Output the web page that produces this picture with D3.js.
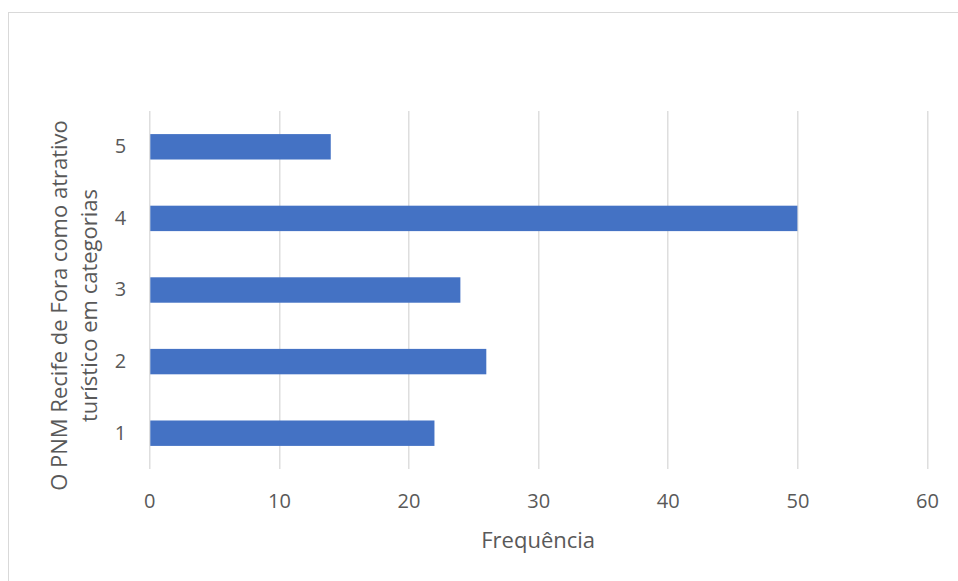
<!DOCTYPE html>
<html>
<head>
<meta charset="utf-8">
<script src="https://cdn.jsdelivr.net/npm/d3@7"></script>
<style>
  body { margin: 0; background: #fff; }
  text { font-family: "Open Sans", sans-serif; fill: #595959; }
</style>
</head>
<body>
<div id="barplot"></div>
<script>
// data
var categories = ["1", "2", "3", "4", "5"];
var values = [22, 26, 24, 50, 14];
var xTicks = [0, 10, 20, 30, 40, 50, 60];
var xTitle = "Frequência";
var yTitleLines = ["O PNM Recife de Fora como atrativo", "turístico em categorias"];

var W = 958, H = 581;
var margin = {top: 111, right: 31, bottom: 112, left: 149.3},
    width = 927 - margin.left,
    height = 469 - margin.top;

var root = d3.select("#barplot")
  .append("svg")
    .attr("width", W)
    .attr("height", H);

// chart frame (continues past the right and bottom edge)
root.append("rect")
  .attr("x", 8.5).attr("y", 12.5)
  .attr("width", 1000).attr("height", 1000)
  .attr("fill", "#fff")
  .attr("stroke", "#d9d9d9");

var svg = root.append("g")
  .attr("transform", "translate(" + margin.left + "," + margin.top + ")");

var x = d3.scaleLinear()
  .domain([0, 60])
  .range([0, width]);

var y = d3.scaleBand()
  .domain(categories.slice().reverse())
  .range([0, height])
  .paddingInner(0.645)
  .paddingOuter(0.3225);

// gridlines
svg.append("g")
  .selectAll("line")
  .data(xTicks)
  .enter()
  .append("line")
    .attr("x1", function(d) { return Math.round(x(d)) + 0.5; })
    .attr("x2", function(d) { return Math.round(x(d)) + 0.5; })
    .attr("y1", 0)
    .attr("y2", height)
    .attr("stroke", "#d9d9d9")
    .attr("stroke-width", 1.3);

// x axis labels
var xAxis = svg.append("g")
  .attr("transform", "translate(0," + height + ")")
  .call(d3.axisBottom(x).tickValues(xTicks).tickSize(0).tickPadding(0));
xAxis.select(".domain").remove();
xAxis.selectAll("text")
  .attr("dy", null)
  .attr("y", 39)
  .style("font-size", "20px")
  .style("font-family", "'Open Sans', sans-serif")
  .attr("fill", "#595959");

// y axis labels
var yAxis = svg.append("g")
  .call(d3.axisLeft(y).tickSize(0).tickPadding(23));
yAxis.select(".domain").remove();
yAxis.selectAll("text")
  .style("font-size", "20px")
  .style("font-family", "'Open Sans', sans-serif")
  .attr("fill", "#595959");

// bars
svg.selectAll("mybar")
  .data(values)
  .enter()
  .append("rect")
    .attr("x", x(0) + 1)
    .attr("y", function(d, i) { return y(categories[i]); })
    .attr("width", function(d) { return x(d) - x(0) - 1; })
    .attr("height", y.bandwidth())
    .attr("fill", "#4472c4");

// x title
root.append("text")
  .attr("x", margin.left + width / 2)
  .attr("y", 548)
  .attr("text-anchor", "middle")
  .style("font-size", "22px")
  .text(xTitle);

// y title, two lines
var yt = root.append("text")
  .attr("transform", "translate(67,305.5) rotate(-90)")
  .attr("text-anchor", "middle")
  .style("font-size", "22px");
yt.selectAll("tspan")
  .data(yTitleLines)
  .enter()
  .append("tspan")
    .attr("x", 0)
    .attr("y", function(d, i) { return i * 30; })
    .text(function(d) { return d; });
</script>
</body>
</html>
